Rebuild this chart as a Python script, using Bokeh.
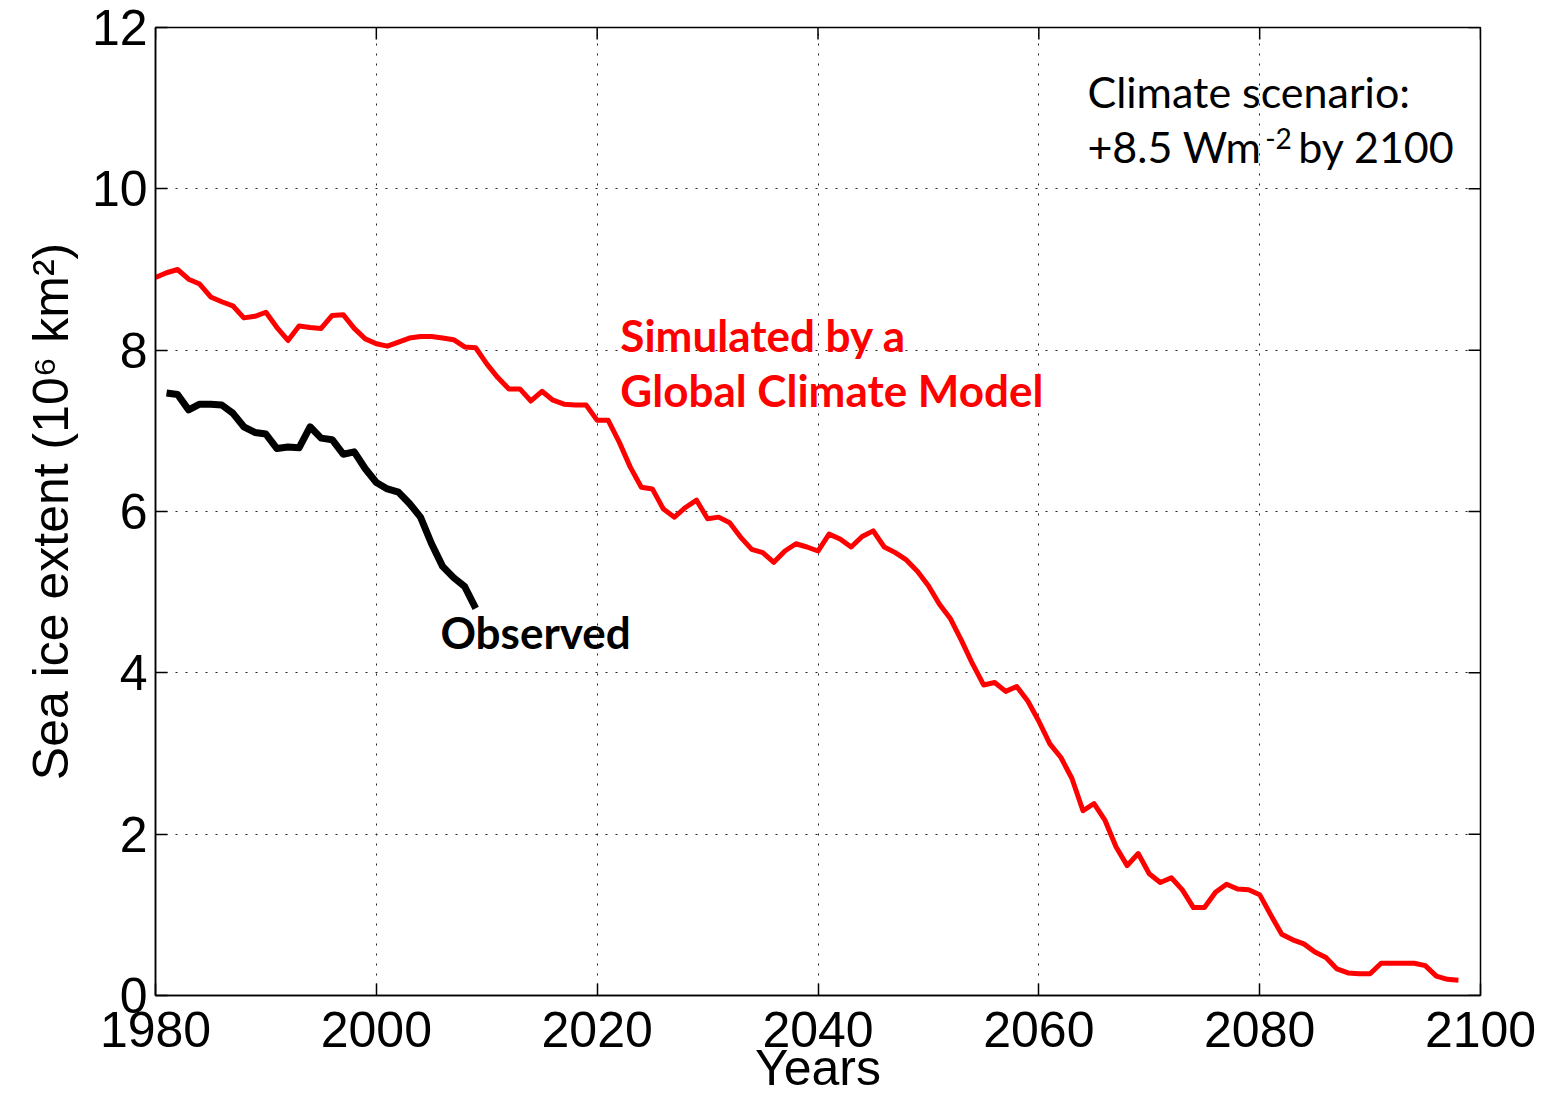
from bokeh.plotting import figure
from bokeh.models import Range1d, FixedTicker, Label
from bokeh.embed import file_html
from bokeh.resources import INLINE

# September Arctic sea ice extent (10^6 km^2)
sim_years = list(range(1980, 2099))
sim_extent = [
    8.90, 8.96, 9.00, 8.88, 8.82, 8.66, 8.60, 8.55, 8.40, 8.42,  # 1980-1989
    8.47, 8.28, 8.12, 8.30, 8.28, 8.27, 8.43, 8.44, 8.27, 8.14,  # 1990-1999
    8.08, 8.05, 8.10, 8.15, 8.17, 8.17, 8.15, 8.13, 8.04, 8.03,  # 2000-2009
    7.83, 7.66, 7.52, 7.52, 7.37, 7.49, 7.38, 7.33, 7.32, 7.32,  # 2010-2019
    7.13, 7.13, 6.86, 6.55, 6.30, 6.28, 6.03, 5.93, 6.05, 6.14,  # 2020-2029
    5.91, 5.93, 5.86, 5.68, 5.53, 5.49, 5.37, 5.51, 5.60, 5.56,  # 2030-2039
    5.51, 5.72, 5.66, 5.56, 5.69, 5.76, 5.56, 5.49, 5.40, 5.26,  # 2040-2049
    5.08, 4.85, 4.67, 4.40, 4.11, 3.85, 3.88, 3.77, 3.83, 3.65,  # 2050-2059
    3.40, 3.12, 2.95, 2.69, 2.29, 2.38, 2.17, 1.84, 1.61, 1.76,  # 2060-2069
    1.51, 1.40, 1.46, 1.31, 1.09, 1.09, 1.28, 1.38, 1.32, 1.31,  # 2070-2079
    1.25, 1.00, 0.76, 0.69, 0.64, 0.54, 0.47, 0.33, 0.28, 0.27,  # 2080-2089
    0.27, 0.40, 0.40, 0.40, 0.40, 0.37, 0.24, 0.20, 0.19,        # 2090-2098
]

obs_years = list(range(1981, 2010))
obs_extent = [
    7.47, 7.45, 7.26, 7.33, 7.33, 7.32, 7.22, 7.05, 6.98,        # 1981-1989
    6.96, 6.78, 6.80, 6.79, 7.05, 6.91, 6.89, 6.71, 6.74, 6.53,  # 1990-1999
    6.36, 6.28, 6.24, 6.10, 5.93, 5.60, 5.32, 5.18, 5.07, 4.80,  # 2000-2009
]

x_ticks = [1980, 2000, 2020, 2040, 2060, 2080, 2100]
y_ticks = [0, 2, 4, 6, 8, 10, 12]

TICK_FONT = "Liberation Sans"
NOTE_FONT = "Lato"

W, H = 1549, 1098
BORDER_L, BORDER_R, BORDER_T, BORDER_B = 155, 69, 27, 103
X0, X1 = 1980, 2100
Y0, Y1 = 0, 12
TICK_LEN = 12  # px, drawn inward

p = figure(
    width=W, height=H,
    output_backend="svg", toolbar_location=None,
    x_range=Range1d(X0, X1), y_range=Range1d(Y0, Y1),
    min_border_left=BORDER_L, min_border_right=BORDER_R,
    min_border_top=BORDER_T, min_border_bottom=BORDER_B,
    background_fill_color="white", border_fill_color="white",
)
p.outline_line_color = "black"
p.outline_line_width = 1.5

# bottom and left axes, MATLAB style (ticks pointing in)
for ax, ticks in ((p.xaxis[0], x_ticks), (p.yaxis[0], y_ticks)):
    ax.ticker = FixedTicker(ticks=ticks)
    ax.major_tick_in = TICK_LEN
    ax.major_tick_out = 0
    ax.minor_tick_line_color = None
    ax.axis_line_color = "black"
    ax.axis_line_width = 1.5
    ax.major_tick_line_color = "black"
    ax.major_tick_line_width = 1.5
    ax.major_label_text_font = TICK_FONT
    ax.major_label_text_font_size = "50px"
    ax.major_label_text_color = "black"
    ax.axis_label_text_font = TICK_FONT
    ax.axis_label_text_font_size = "50px"
    ax.axis_label_text_font_style = "normal"
    ax.axis_label_text_color = "black"

p.xaxis.axis_label = "Years"
p.xaxis.major_label_standoff = 16
p.xaxis.axis_label_standoff = -10

p.yaxis.axis_label = "Sea ice extent (10\u2076 km\u00b2)"
p.yaxis.major_label_standoff = 8
p.yaxis.axis_label_standoff = 10

# mirrored tick marks along the top and right edges of the box
dx = TICK_LEN * (X1 - X0) / (W - BORDER_L - BORDER_R)
dy = TICK_LEN * (Y1 - Y0) / (H - BORDER_T - BORDER_B)
p.segment(x0=x_ticks, y0=[Y1] * len(x_ticks), x1=x_ticks, y1=[Y1 - dy] * len(x_ticks),
          line_color="black", line_width=1.5)
p.segment(x0=[X1] * len(y_ticks), y0=y_ticks, x1=[X1 - dx] * len(y_ticks), y1=y_ticks,
          line_color="black", line_width=1.5)

# dotted grid
p.xgrid.ticker = FixedTicker(ticks=x_ticks[1:-1])
p.ygrid.ticker = FixedTicker(ticks=y_ticks[1:-1])
for g in (p.xgrid[0], p.ygrid[0]):
    g.grid_line_color = "#222222"
    g.grid_line_dash = "2 8"
    g.grid_line_width = 1

# series
p.line(sim_years, sim_extent, line_color="#ff0000", line_width=5, line_join="round")
p.line(obs_years, obs_extent, line_color="black", line_width=7, line_join="round")

# annotations
def note(x, y, text, size, color="black", bold=False):
    p.add_layout(Label(x=x, y=y, text=text, text_font=NOTE_FONT,
                       text_font_size=size, text_color=color,
                       text_font_style="bold" if bold else "normal",
                       text_align="left", text_baseline="alphabetic"))

note(2022.1, 8.19, "Simulated by a", "44px", "#ff0000", True)
note(2022.1, 7.51, "Global Climate Model", "44px", "#ff0000", True)
note(2005.8, 4.51, "Observed", "44px", "black", True)
note(2064.4, 11.21, "Climate scenario:", "43px")
note(2064.4, 10.52, "+8.5 Wm", "43px")
note(2080.5, 10.62, "-2", "28px")
note(2083.5, 10.52, "by 2100", "43px")

open("out.html", "w").write(file_html(p, INLINE))
